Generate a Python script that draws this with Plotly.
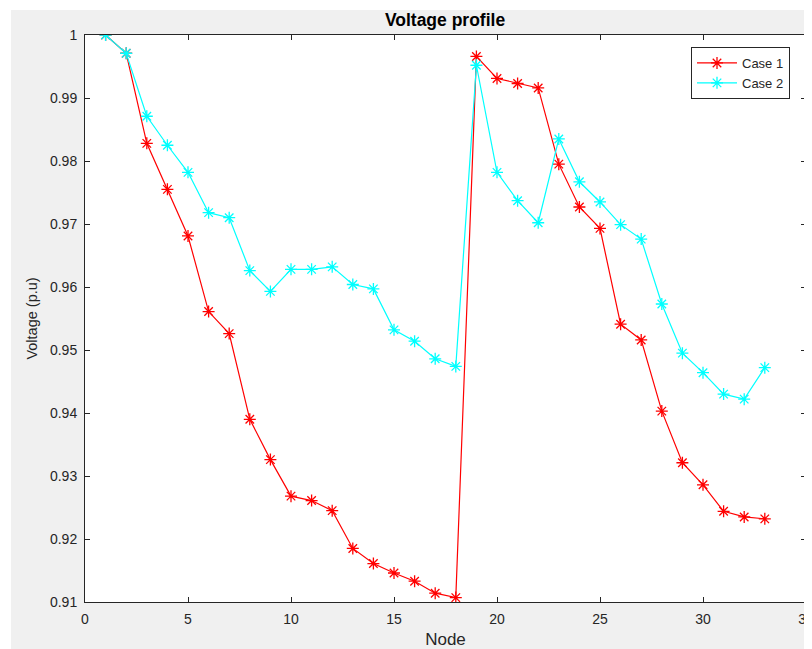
import plotly.graph_objects as go

nodes = list(range(1, 34))
case1 = [1.0, 0.9971, 0.9828, 0.9755, 0.9681, 0.9561, 0.9526, 0.9390, 0.9326,
         0.9268, 0.9261, 0.9245, 0.9185, 0.9161, 0.9146, 0.9133, 0.9114, 0.9107,
         0.9966, 0.9931, 0.9923, 0.9916, 0.9795, 0.9727, 0.9693, 0.9541, 0.9516,
         0.9403, 0.9321, 0.9286, 0.9244, 0.9235, 0.9232]
case2 = [1.0, 0.9971, 0.9871, 0.9825, 0.9782, 0.9718, 0.9710, 0.9626, 0.9593,
         0.9628, 0.9628, 0.9632, 0.9604, 0.9597, 0.9532, 0.9514, 0.9486, 0.9474,
         0.9952, 0.9782, 0.9737, 0.9702, 0.9835, 0.9767, 0.9735, 0.9699, 0.9676,
         0.9573, 0.9495, 0.9464, 0.9430, 0.9422, 0.9472]
series_names = ["Case 1", "Case 2"]
xticks = [0, 5, 10, 15, 20, 25, 30, 35]
yticks = [0.91, 0.92, 0.93, 0.94, 0.95, 0.96, 0.97, 0.98, 0.99, 1.0]
ytick_labels = ["0.91", "0.92", "0.93", "0.94", "0.95", "0.96", "0.97", "0.98", "0.99", "1"]

FONT = "Liberation Sans, Arial, Helvetica, sans-serif"
AX = "#262626"
OFF = 8  # page body margin
W, H = 804, 641
L, R, T, B = 77, 6, 27, 47
PW, PH = W - L - R, H - T - B

fig = go.Figure()
for name, vals, col in [(series_names[0], case1, "#ff0000"), (series_names[1], case2, "#00ffff")]:
    fig.add_trace(go.Scatter(
        x=nodes, y=vals, name=name, mode="lines+markers",
        line=dict(color=col, width=1.2),
        marker=dict(symbol="asterisk-open", size=10, line=dict(color=col, width=1.3)),
    ))

def px_to_paper_x(px):
    return (px - OFF - L) / PW

def px_to_paper_y(py):
    return (H - B - (py - OFF)) / PH

shapes = [
    dict(type="rect", xref="paper", yref="paper", layer="below",
         x0=px_to_paper_x(OFF - 2), x1=px_to_paper_x(11), y0=px_to_paper_y(OFF + H + 2), y1=px_to_paper_y(OFF - 2),
         fillcolor="white", line=dict(width=0)),
    dict(type="rect", xref="paper", yref="paper", layer="below",
         x0=px_to_paper_x(OFF - 2), x1=px_to_paper_x(OFF + W + 2), y0=px_to_paper_y(10), y1=px_to_paper_y(OFF - 2),
         fillcolor="white", line=dict(width=0)),
]

axis_common = dict(
    showline=True, linecolor=AX, linewidth=1, mirror="allticks",
    ticks="inside", ticklen=5, tickcolor=AX, tickwidth=1,
    showgrid=False, zeroline=False, ticklabelstandoff=4, automargin=False,
    tickfont=dict(family=FONT, size=14, color=AX),
)

fig.update_layout(
    width=W, height=H,
    margin=dict(l=L, r=R, t=T, b=B, pad=0, autoexpand=False),
    paper_bgcolor="#f0f0f0", plot_bgcolor="white",
    shapes=shapes,
    title=dict(text="<b>Voltage profile</b>", x=px_to_paper_x(445), xref="paper", xanchor="center",
               y=1 - (20 - OFF) / H, yref="container", yanchor="middle",
               font=dict(family=FONT, size=17.5, color="black")),
    xaxis=dict(range=[0, 35], tickvals=xticks, ticktext=[str(v) for v in xticks],
               ticklabeloverflow="allow",
               title=dict(text="Node", font=dict(family=FONT, size=17, color=AX), standoff=13),
               **axis_common),
    yaxis=dict(range=[0.91, 1.0], tickvals=yticks, ticktext=ytick_labels,
               title=dict(text="Voltage (p.u)", font=dict(family=FONT, size=14.5, color=AX), standoff=8),
               **axis_common),
    legend=dict(x=px_to_paper_x(790), y=px_to_paper_y(73), xanchor="right", yanchor="middle",
                bgcolor="white", bordercolor=AX, borderwidth=1,
                font=dict(family=FONT, size=13, color=AX),
                tracegroupgap=0, itemwidth=40),
    showlegend=True,
)

fig.write_html("out.html")
